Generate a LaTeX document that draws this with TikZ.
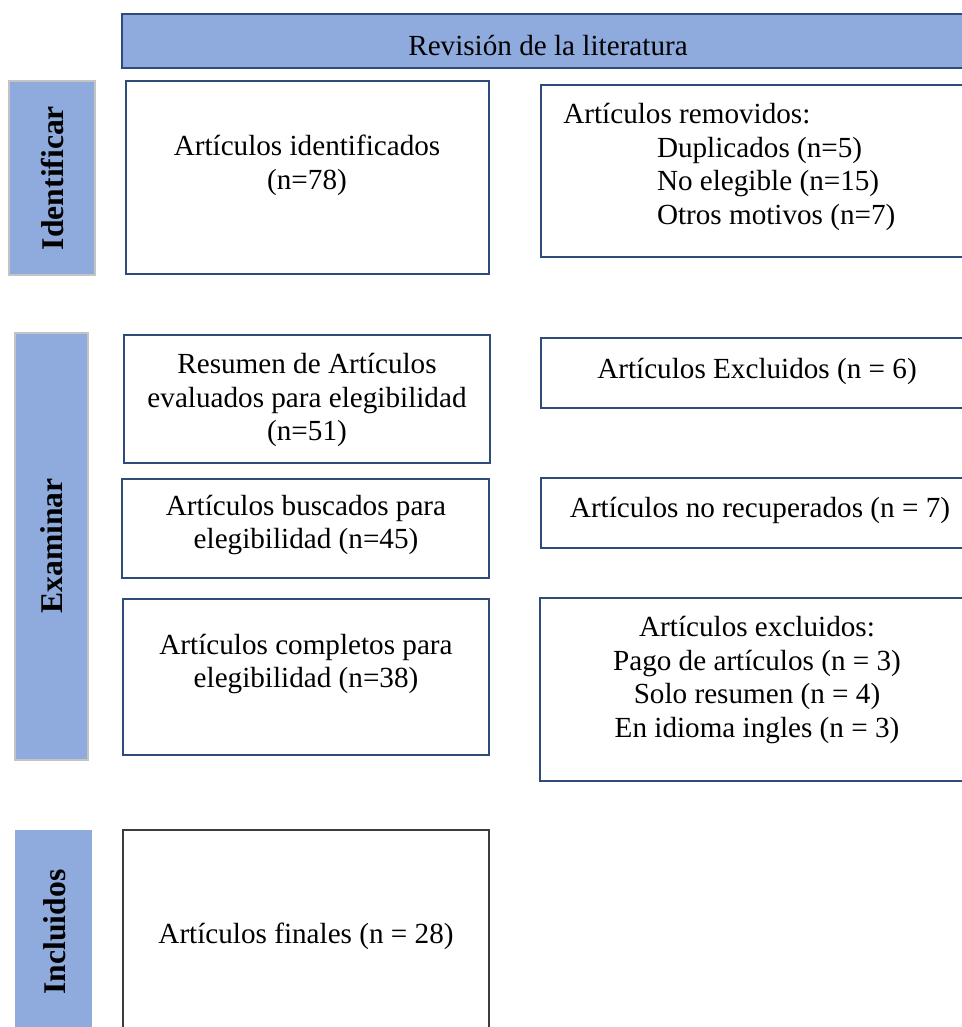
\documentclass[tikz,border=0pt]{standalone}
\usepackage{fontspec}
\setmainfont{Liberation Serif}
\usetikzlibrary{fit}

\definecolor{fondoEtapa}{HTML}{8FAADC}
\definecolor{bordeCaja}{HTML}{2F4B7C}
\definecolor{bordeEtapa}{HTML}{C4C4C4}
\definecolor{bordeFinal}{HTML}{3C3C3C}

\tikzset{
    etapa/.style={fill=fondoEtapa, draw=bordeEtapa, line width=0.6pt, inner sep=0pt},
    etapaT/.style={font=\fontsize{18}{21}\selectfont\bfseries, rotate=90, inner sep=0pt},
    caja/.style={draw=bordeCaja, line width=1.3pt, fill=white, inner sep=0pt},
    texto/.style={font=\fontsize{16.6}{19.3}\selectfont, align=center, inner sep=0pt}
}

\begin{document}
\begin{tikzpicture}[x=0.02cm, y=-0.02cm]
    \useasboundingbox (0,0) rectangle (962,1027);
    \clip (0,0) rectangle (962,1027);
    \node[caja, fill=fondoEtapa, line width=1.6pt, fit={(122,14) (975,68)}] (revision) {};
    \node[texto] (revisionT) at (548,46) {Revisión de la literatura};

    \node[etapa, fit={(9,81) (95,275)}] (identificar) {};
    \node[etapa, fit={(15,333) (88,760)}] (examinar) {};
    \node[etapa, draw=none, fit={(15,830) (92,1040)}] (incluidos) {};
    \node[etapaT] (identificarT) at (53,178) {Identificar};
    \node[etapaT] (examinarT) at (52,546) {Examinar};
    \node[etapaT] (incluidosT) at (55,932) {Incluidos};

    \node[caja, fit={(126,81) (489,274)}] (identificados) {};
    \node[caja, fit={(124,335) (490,463)}] (resumen) {};
    \node[caja, fit={(122,479) (489,578)}] (buscados) {};
    \node[caja, fit={(123,599) (489,755)}] (completos) {};
    \node[caja, draw=bordeFinal, fit={(123,830) (489,1040)}] (finales) {};
    \node[caja, fit={(541,85) (975,257)}] (removidos) {};
    \node[caja, fit={(541,338) (975,408)}] (excluidos) {};
    \node[caja, fit={(541,478) (975,548)}] (norecuperados) {};
    \node[caja, fit={(540,598) (975,781)}] (excluidos2) {};

    \node[texto] (identificadosT) at (307,165) {Artículos identificados\\(n=78)};
    \node[texto] (resumenT) at (307,400) {Resumen de Artículos\\evaluados para elegibilidad\\(n=51)};
    \node[texto] (buscadosT) at (306,525) {Artículos buscados para\\elegibilidad (n=45)};
    \node[texto] (completosT) at (306,664) {Artículos completos para\\elegibilidad (n=38)};
    \node[texto] (finalesT) at (306,936) {Artículos finales (n = 28)};
    \node[texto, align=left, anchor=west] (removidosT) at (563,167)
        {Artículos removidos:\\\hspace*{53.3pt}Duplicados (n=5)\\\hspace*{53.3pt}No elegible (n=15)\\\hspace*{53.3pt}Otros motivos (n=7)};
    \node[texto] (excluidosT) at (757,371) {Artículos Excluidos (n = 6)};
    \node[texto] (norecuperadosT) at (760,510) {Artículos no recuperados (n = 7)};
    \node[texto] (excluidos2T) at (757,680) {Artículos excluidos:\\Pago de artículos (n = 3)\\Solo resumen (n = 4)\\En idioma ingles (n = 3)};
\end{tikzpicture}
\end{document}
